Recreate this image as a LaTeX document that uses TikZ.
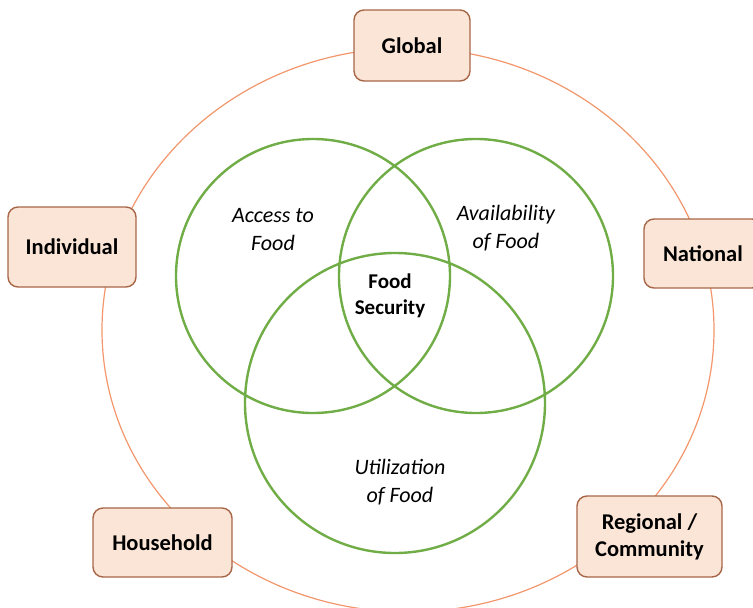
\documentclass[tikz,border=0pt]{standalone}
\usepackage{fontspec}
\setmainfont{Carlito}
\usepackage{tikz}
\usetikzlibrary{
    positioning,        % Relative positioning
    shapes.geometric    % Ellipse
}
\definecolor{BoxFill}{RGB}{251,229,214}
\definecolor{BoxLine}{RGB}{168,102,72}
\definecolor{RingOrange}{RGB}{242,150,108}
\definecolor{PillarGreen}{RGB}{112,173,71}
\tikzset{level box/.style={
    rectangle,
    draw=BoxLine,
    line width=1.4pt,
    rounded corners=10pt,
    fill=BoxFill,
    text centered,
    align=center,
    inner sep=0pt,
    font=\fontsize{22.5}{27}\selectfont\bfseries
}}
\tikzset{pillar circle/.style={
    circle,
    draw=PillarGreen,
    line width=2.4pt,
    inner sep=0pt
}}
\tikzset{pillar label/.style={
    align=center,
    inner sep=0pt,
    font=\fontsize{22}{28}\selectfont\itshape
}}

\begin{document}
\begin{tikzpicture}[x=1pt,y=-1pt]
    \useasboundingbox (0,0) rectangle (753,608);

    % levels ring
    \node[ellipse, draw=RingOrange, line width=1.2pt, inner sep=0pt,
          minimum width=612pt, minimum height=564pt] (ring) at (408,330) {};

    % three pillars
    \node[pillar circle, minimum size=274pt] (access) at (313,276) {};
    \node[pillar circle, minimum size=274pt] (avail) at (476,276) {};
    \node[pillar circle, minimum size=300pt] (util) at (395,403) {};

    \node[pillar label] (accesstext) at (273,230) {Access to\\Food};
    \node[pillar label] (availtext) at (506,228) {Availability\\of Food};
    \node[pillar label] (utiltext) at (400,482) {Utilization\\of Food};
    \node[align=center, inner sep=0pt, font=\fontsize{21}{26}\selectfont\bfseries]
        (security) at (390,296) {Food\\Security};

    % levels
    \node[level box, minimum width=116pt, minimum height=71pt] (global) at (412,45.5) {Global};
    \node[level box, minimum width=128pt, minimum height=80pt] (individual) at (72,247) {Individual};
    \node[level box, minimum width=118pt, minimum height=69pt] (national) at (703,253.5) {National};
    \node[level box, minimum width=139pt, minimum height=69pt] (household) at (162.5,542.5) {Household};
    \node[level box, minimum width=145pt, minimum height=81pt] (regional) at (649.5,536.5) {Regional /\\Community};
\end{tikzpicture}
\end{document}
